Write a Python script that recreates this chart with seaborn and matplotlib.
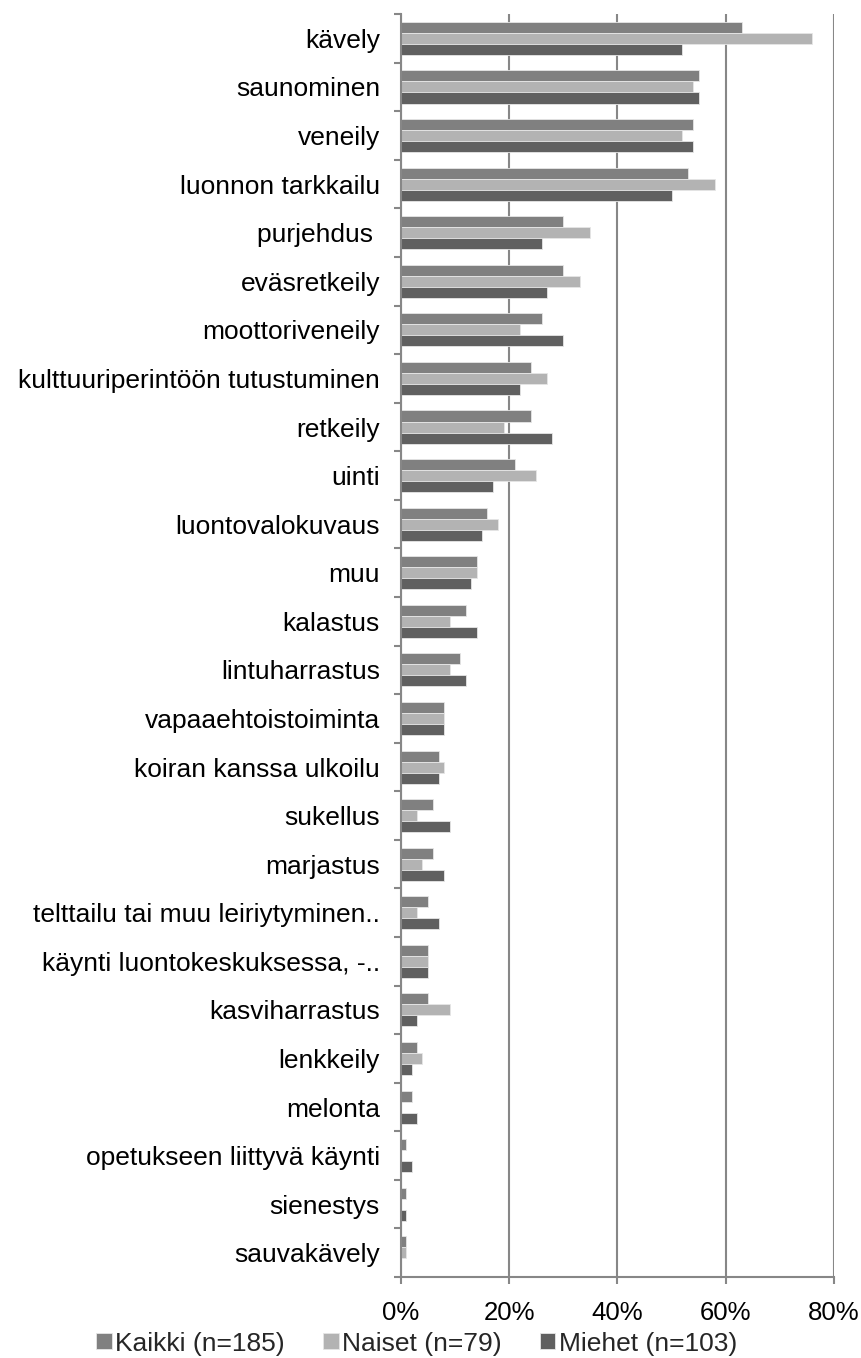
import matplotlib
matplotlib.use("Agg")
import matplotlib.pyplot as plt
import matplotlib.ticker as mticker
import numpy as np
import pandas as pd
import seaborn as sns

# Data (percent)
activities = ["kävely", "saunominen", "veneily", "luonnon tarkkailu", "purjehdus ",
              "eväsretkeily", "moottoriveneily", "kulttuuriperintöön tutustuminen",
              "retkeily", "uinti", "luontovalokuvaus", "muu", "kalastus",
              "lintuharrastus", "vapaaehtoistoiminta", "koiran kanssa ulkoilu",
              "sukellus", "marjastus", "telttailu tai muu leiriytyminen..",
              "käynti luontokeskuksessa, -..", "kasviharrastus", "lenkkeily",
              "melonta", "opetukseen liittyvä käynti", "sienestys", "sauvakävely"]
kaikki = [63, 55, 54, 53, 30, 30, 26, 24, 24, 21, 16, 14, 12, 11, 8, 7, 6, 6, 5, 5, 5, 3, 2, 1, 1, 1]
naiset = [76, 54, 52, 58, 35, 33, 22, 27, 19, 25, 18, 14, 9, 9, 8, 8, 3, 4, 3, 5, 9, 4, 0, 0, 0, 1]
miehet = [52, 55, 54, 50, 26, 27, 30, 22, 28, 17, 15, 13, 14, 12, 8, 7, 9, 8, 7, 5, 3, 2, 3, 2, 1, 0]
series = ["Kaikki (n=185)", "Naiset (n=79)", "Miehet (n=103)"]
colors = ["#808080", "#b3b3b3", "#606060"]
x_ticks = [0, 20, 40, 60, 80]

df = pd.DataFrame({"activity": activities * 3,
                   "value": kaikki + naiset + miehet,
                   "series": [s for s in series for _ in activities]})

sns.set_style("white")
plt.rcParams["font.family"] = ["Liberation Sans", "DejaVu Sans"]

fig = plt.figure(figsize=(8.62, 13.58), dpi=100)
ax = fig.add_axes([0.465, 0.0596, 0.5025, 0.930])

sns.barplot(data=df, y="activity", x="value", hue="series", order=activities,
            hue_order=series, palette=colors, orient="h", width=0.68,
            edgecolor="#e6e6e6", linewidth=0.6, saturation=1, ax=ax, legend=True)

ax.set_xlim(0, 80)
ax.set_ylim(len(activities) - 0.5, -0.5)
ax.set_xticks(x_ticks)
ax.xaxis.set_major_formatter(mticker.FuncFormatter(lambda v, p: f"{v:.0f}%"))
ax.grid(axis="x", color="#878787", linewidth=1.5)
ax.set_axisbelow(True)
ax.set_xlabel("")
ax.set_ylabel("")

for side in ["top", "right"]:
    ax.spines[side].set_visible(False)
for side in ["left", "bottom"]:
    ax.spines[side].set_color("#878787")
    ax.spines[side].set_linewidth(1.5)

ax.set_yticks(np.arange(-0.5, len(activities), 1), minor=True)
ax.tick_params(axis="y", which="major", length=0, pad=15, labelsize=19, labelcolor="black")
ax.tick_params(axis="y", which="minor", length=5, width=1.5, color="#878787", left=True)
ax.tick_params(axis="x", which="major", length=5, width=1.5, color="#878787",
               bottom=True, pad=12, labelsize=18.5, labelcolor="black")

handles, labels = ax.get_legend_handles_labels()
ax.get_legend().remove()
fig.legend(handles, labels, loc="center", bbox_to_anchor=(0.483, 0.0105), ncol=3,
           frameon=False, fontsize=19, handlelength=0.6, handleheight=0.55,
           handletextpad=0.12, columnspacing=1.45, borderpad=0)

fig.savefig("out.png", dpi=100)
